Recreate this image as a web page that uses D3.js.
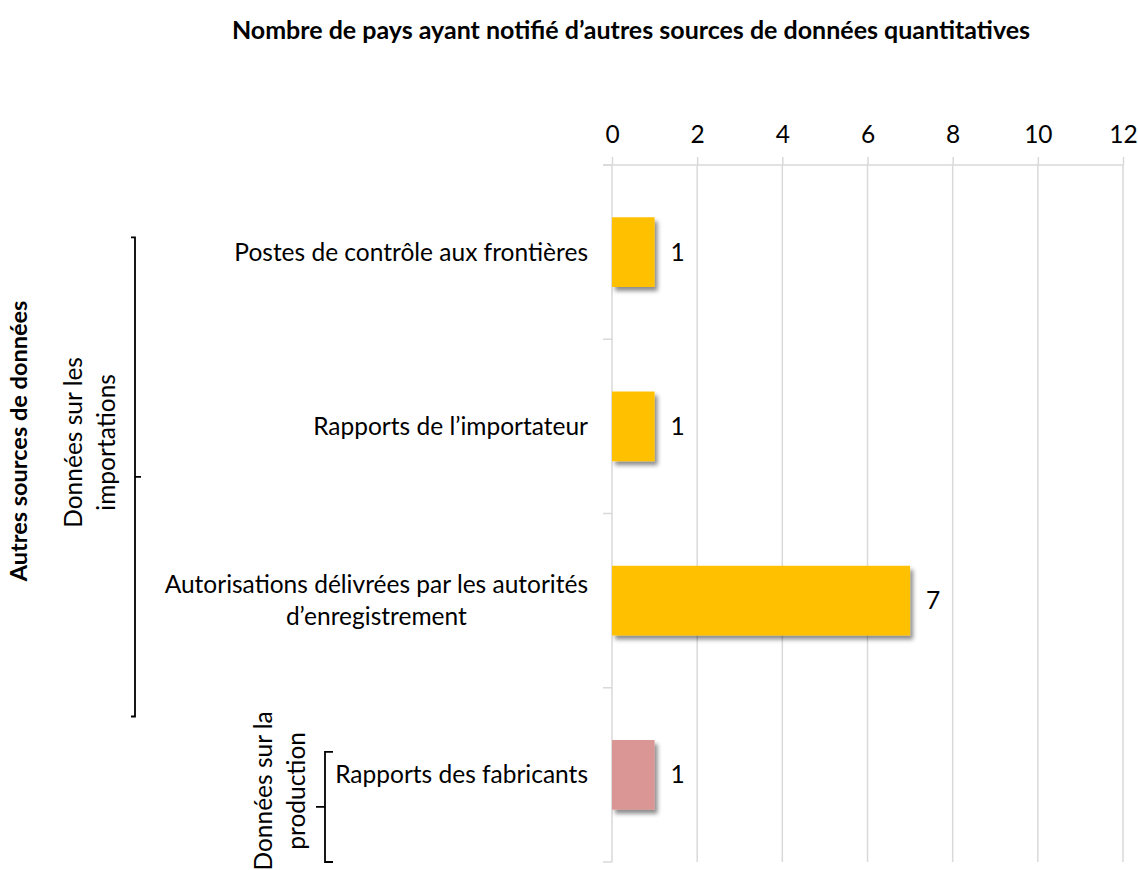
<!DOCTYPE html>
<html>
<head>
<meta charset="utf-8">
<script src="https://cdn.jsdelivr.net/npm/d3@7"></script>
<style>
  html, body { margin: 0; padding: 0; background: #fff; }
  svg { display: block; font-family: Lato, "Open Sans", sans-serif; }
</style>
</head>
<body>
<svg id="chart" width="1138" height="870"></svg>
<script>
// ---- data ----
const title = "Nombre de pays ayant notifié d’autres sources de données quantitatives";
const categories = [
  "Postes de contrôle aux frontières",
  "Rapports de l’importateur",
  "Autorisations délivrées par les autorités d’enregistrement",
  "Rapports des fabricants"
];
const categoryLines = [
  ["Postes de contrôle aux frontières"],
  ["Rapports de l’importateur"],
  ["Autorisations délivrées par les autorités", "d’enregistrement"],
  ["Rapports des fabricants"]
];
const values = [1, 1, 7, 1];
const groups = ["Données sur les importations", "Données sur les importations", "Données sur les importations", "Données sur la production"];
const groupLines = {
  "Données sur les importations": ["Données sur les", "importations"],
  "Données sur la production": ["Données sur la", "production"]
};
const outerLabel = "Autres sources de données";
const xTicks = [0, 2, 4, 6, 8, 10, 12];
const barColors = ["#FFC000", "#FFC000", "#FFC000", "#D99694"];

// ---- layout ----
const svg = d3.select("#chart");
const plot = { left: 612, right: 1123, top: 165, bottom: 862 };
const gridColor = "#D9D9D9";
const fontSize = 24.5;

const x = d3.scaleLinear().domain([0, 12]).range([plot.left, plot.right]);
const yOuter = d3.scaleBand().domain(categories).range([plot.top, plot.bottom]).padding(0);
const y = d3.scaleBand().domain(categories).range([plot.top, plot.bottom]).paddingInner(0.6).paddingOuter(0.3);
const step = yOuter.step();

// shadow filter
const defs = svg.append("defs");
const f = defs.append("filter").attr("id", "shadow").attr("x", "-20%").attr("y", "-20%").attr("width", "150%").attr("height", "150%");
f.append("feDropShadow").attr("dx", 3).attr("dy", 4).attr("stdDeviation", 2.2)
  .attr("flood-color", "#000").attr("flood-opacity", 0.45);

// title
svg.append("text")
  .attr("x", 631).attr("y", 39)
  .attr("text-anchor", "middle")
  .attr("font-weight", "bold")
  .attr("font-size", 25)
  .attr("fill", "#000")
  .text(title);

// top axis with tick labels
const xAxis = d3.axisTop(x).tickValues(xTicks).tickSize(8).tickPadding(14).tickFormat(d3.format("d"));
const gx = svg.append("g").attr("transform", `translate(0,${plot.top})`).call(xAxis);
gx.select(".domain").attr("stroke", gridColor).attr("stroke-width", 1.5).attr("d", `M${plot.left - 9},0H${plot.right}`);
gx.selectAll(".tick line").attr("stroke", gridColor).attr("stroke-width", 1.5);
gx.selectAll(".tick text").attr("font-size", fontSize).attr("fill", "#000").attr("font-family", "Lato, sans-serif");

// vertical gridlines
svg.append("g").selectAll("line").data(xTicks).join("line")
  .attr("x1", d => x(d)).attr("x2", d => x(d))
  .attr("y1", plot.top).attr("y2", plot.bottom)
  .attr("stroke", gridColor).attr("stroke-width", 1.5);

// left axis ticks at category boundaries
const boundaries = categories.map(c => yOuter(c)).concat([plot.bottom]);
svg.append("g").selectAll("line").data(boundaries).join("line")
  .attr("x1", plot.left - 9).attr("x2", plot.left)
  .attr("y1", d => d).attr("y2", d => d)
  .attr("stroke", gridColor).attr("stroke-width", 1.5);

// bars
svg.append("g").selectAll("rect").data(values).join("rect")
  .attr("x", x(0))
  .attr("y", (d, i) => y(categories[i]))
  .attr("width", d => x(d) - x(0))
  .attr("height", y.bandwidth())
  .attr("fill", (d, i) => barColors[i])
  .attr("filter", "url(#shadow)");

// value labels
svg.append("g").selectAll("text").data(values).join("text")
  .attr("x", d => x(d) + 16)
  .attr("y", (d, i) => y(categories[i]) + y.bandwidth() / 2)
  .attr("dy", "0.35em")
  .attr("font-size", fontSize)
  .attr("fill", "#000")
  .text(d => d);

// category labels (right-aligned block, lines centered in block)
const labelRight = plot.left - 24;
const lineH = 32;
categoryLines.forEach((lines, i) => {
  const cy = y(categories[i]) + y.bandwidth() / 2;
  const g = svg.append("g");
  const texts = lines.map((ln, j) => g.append("text")
    .attr("y", cy + (j - (lines.length - 1) / 2) * lineH)
    .attr("dy", "0.35em")
    .attr("font-size", fontSize)
    .attr("fill", "#000")
    .attr("text-anchor", "middle")
    .text(ln));
  const maxW = d3.max(texts, t => t.node().getComputedTextLength());
  texts.forEach(t => t.attr("x", labelRight - maxW / 2));
});

// group brackets and labels
const groupNames = Array.from(new Set(groups));
groupNames.forEach((gname, gi) => {
  const idx = groups.map((g, i) => g === gname ? i : -1).filter(i => i >= 0);
  const bandTop = yOuter(categories[idx[0]]);
  const bandBot = yOuter(categories[idx[idx.length - 1]]) + step;
  const mid = (bandTop + bandBot) / 2;
  let top, bot, bx, hook, nub;
  if (gi === 0) {
    top = bandTop + step * 0.415; bot = bandBot + step * 0.165; bx = 135; hook = -4; nub = 6;
  } else {
    top = bandTop + step * 0.368; bot = bandBot; bx = 325; hook = 8; nub = -9;
  }
  const bm = (top + bot) / 2;
  svg.append("path")
    .attr("d", `M${bx + hook},${top}H${bx}V${bot}H${bx + hook}M${bx},${bm}H${bx + nub}`)
    .attr("fill", "none").attr("stroke", "#000").attr("stroke-width", 1.8);
  const tx = gi === 0 ? 90 : 280;
  const tcy = mid + 16;
  const gl = groupLines[gname];
  const t = svg.append("text")
    .attr("transform", `translate(${tx},${tcy}) rotate(-90)`)
    .attr("text-anchor", "middle")
    .attr("font-size", fontSize)
    .attr("fill", "#000");
  gl.forEach((ln, j) => t.append("tspan")
    .attr("x", 0)
    .attr("y", (j - (gl.length - 1) / 2) * 33)
    .attr("dy", "0.35em")
    .text(ln));
});

// outer label
svg.append("text")
  .attr("transform", `translate(19,441) rotate(-90)`)
  .attr("text-anchor", "middle")
  .attr("dy", "0.35em")
  .attr("font-weight", "bold")
  .attr("font-size", 23.5)
  .attr("fill", "#000")
  .text(outerLabel);
</script>
</body>
</html>
